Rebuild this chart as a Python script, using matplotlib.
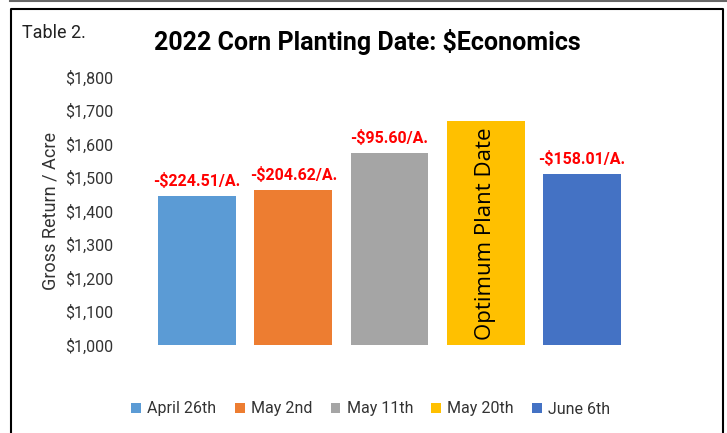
import matplotlib
matplotlib.use("Agg")
import matplotlib.pyplot as plt
from matplotlib.lines import Line2D
from matplotlib.patches import Patch
from matplotlib.ticker import FuncFormatter

plt.rcParams['font.family'] = ['Roboto', 'DejaVu Sans']

# data
dates = ["April 26th", "May 2nd", "May 11th", "May 20th", "June 6th"]
gross_return = [1443.5, 1463.4, 1572.4, 1668.0, 1510.0]
loss_labels = ["-$224.51/A.", "-$204.62/A.", "-$95.60/A.", None, "-$158.01/A."]
colors = ["#5B9BD5", "#ED7D31", "#A5A5A5", "#FFC000", "#4472C4"]
yticks = [1000, 1100, 1200, 1300, 1400, 1500, 1600, 1700, 1800]

fig = plt.figure(figsize=(7.27, 4.33), dpi=100)
ax = fig.add_axes([149 / 727, 1 - 345 / 433, 481 / 727, 268 / 433])

x = range(len(dates))
bars = ax.bar(x, gross_return, width=0.81, color=colors)
ax.set_xlim(-0.5, len(dates) - 0.5)
ax.set_ylim(1000, 1800)
ax.set_yticks(yticks)
ax.yaxis.set_major_formatter(FuncFormatter(lambda v, p: "${:,.0f}".format(v)))
ax.set_xticks([])
ax.tick_params(axis='y', length=0, labelsize=11.5, pad=26, colors='#333333')
for s in ax.spines.values():
    s.set_visible(False)
ax.set_ylabel("Gross Return / Acre", fontsize=13, color='#333333', labelpad=4)

for bar, lab in zip(bars, loss_labels):
    if lab is None:
        continue
    ax.annotate(lab, (bar.get_x() + bar.get_width() / 2, bar.get_height()),
                xytext=(0, 5), textcoords='offset points', ha='center', va='bottom',
                color='#FF0000', fontsize=11.5, fontweight='bold')

# optimum bar text
opt = gross_return.index(max(gross_return))
ax.text(opt, 1015, "Optimum Plant Date", rotation=90, ha='center', va='bottom',
        fontsize=16, family=['Open Sans', 'DejaVu Sans'], color='black')

fig.text(22 / 727, 1 - 33 / 433, "Table 2.", fontsize=13, va='center', ha='left', color='#222222')
fig.text(367 / 727, 1 - 42 / 433, "2022 Corn Planting Date: $Economics", fontsize=18,
         fontweight='bold', ha='center', va='center', color='black')

handles = [Patch(facecolor=c, edgecolor='none') for c in colors]
fig.legend(handles, dates, loc='center', bbox_to_anchor=(371 / 727, 1 - 409 / 433), ncol=5,
           frameon=False, fontsize=11.5, handlelength=0.6, handleheight=0.6,
           handletextpad=0.4, columnspacing=1.15, labelcolor='#333333')

# outer frame
fig.add_artist(Line2D([10 / 727, 1], [1 - 1 / 433, 1 - 1 / 433], color='#666666', lw=1.5))
fig.add_artist(Line2D([10.5 / 727, 10.5 / 727, 723 / 727, 723 / 727],
                      [0, 1 - 9 / 433, 1 - 9 / 433, 0], color='black', lw=1.5))

fig.savefig("out.png", dpi=100)
